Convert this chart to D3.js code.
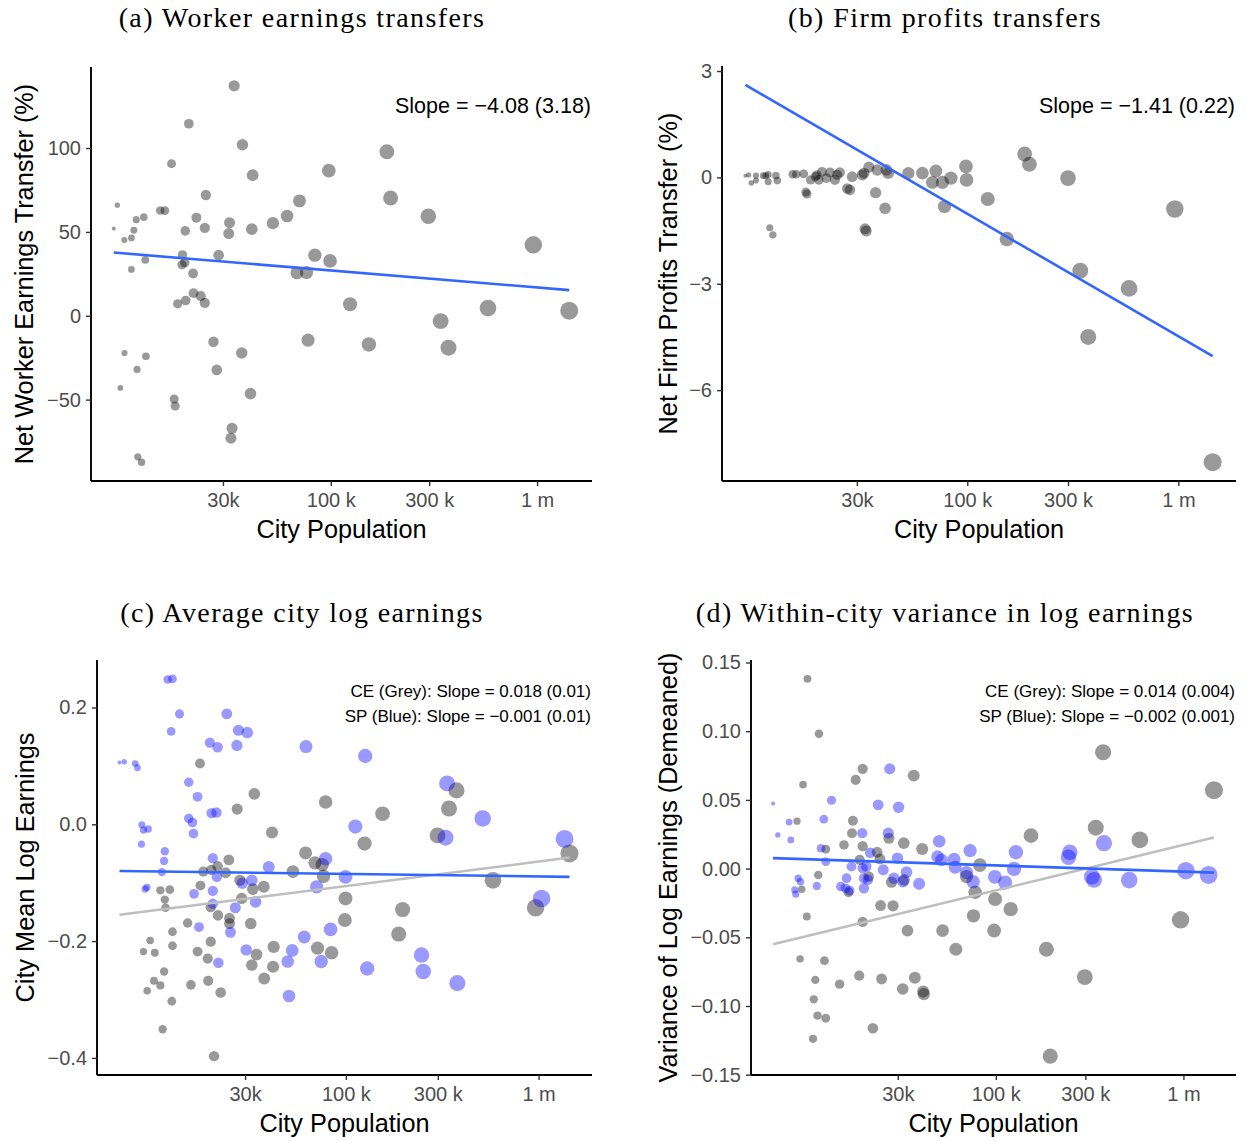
<!DOCTYPE html>
<html><head><meta charset="utf-8">
<script src="https://cdn.jsdelivr.net/npm/d3@7"></script>
<style>body{margin:0;background:#fff}</style>
</head><body>
<svg id="chart" width="1247" height="1141"></svg>
<script>
// ---------- DATA (population in thousands) ----------
const xTicks = [30, 100, 300, 1000];
const xTickLabels = ["30k", "100 k", "300 k", "1 m"];

// (a) Worker earnings transfers
const aPop = [34.0,20.5,37.3,97.8,41.8,16.9,24.8,9.23,70.5,14.9,15.7,12.4,11.4,22.3,61.4,52.4,32.3,24.5,19.7,41.4,32.0,8.87,11.1,9.98,10.8,19.1,28.6,83.7,99.2,12.6,19.6,19.0,10.8,21.5,68.5,76.3,21.6,23.4,19.8,24.5,18.1,124,27.0,77.6,37.0,10.0,12.7,11.5,28.0,9.54,40.8,17.4,17.6,33.2,32.8,11.6,12.1,187,195,297,959,578,1432,341,153,372];
const aVal = [137.1,114.5,102.0,86.5,83.8,90.7,72.0,65.9,68.5,62.7,62.7,58.8,57.3,58.5,59.5,55.2,55.5,52.4,50.6,51.6,49.0,52.0,51.0,45.1,46.4,36.3,36.1,36.1,32.7,33.3,31.7,30.4,27.6,25.2,25.6,25.8,13.5,11.7,9.1,7.7,7.1,6.9,-15.5,-14.5,-22.2,-22.2,-24.2,-32.0,-32.3,-43.0,-46.4,-49.6,-53.8,-67.1,-73.0,-84.1,-87.3,97.8,70.2,59.3,42.3,4.6,3.0,-3.2,-17.1,-19.0];
const aTrend = [37.7, 15.3];
const aYTicks = [-50, 0, 50, 100];

// (b) Firm profits transfers
const bPop = [8.89,9.21,9.49,9.98,9.98,10.8,11.1,11.4,11.4,12.4,12.6,11.6,12.0,14.9,15.5,16.8,17.2,17.4,18.1,19.1,19.4,19.8,20.5,21.5,22.4,23.6,24.2,24.9,27.0,27.8,28.5,31.8,32.4,32.8,33.2,34.2,36.8,37.5,40.8,41.4,42.2,52.6,61.3,71.0,68.4,76.3,78.0,83.7,98.6,99.2,125,187,197,300,962,154,343,584,374,1453];
const bVal = [0.05,0.07,-0.16,0.05,-0.09,0.05,0.05,0.08,-0.12,0.05,-0.09,-1.42,-1.62,0.09,0.09,0.10,-0.41,-0.47,-0.07,0.02,0.07,-0.07,0.16,-0.02,0.14,-0.07,0.07,0.14,-0.31,-0.35,0.02,0.07,0.12,-1.45,-1.51,0.29,-0.43,0.21,-0.87,0.21,0.12,0.12,0.12,0.18,-0.14,-0.14,-0.82,-0.02,0.31,-0.07,-0.61,0.66,0.37,-0.02,-0.89,-1.74,-2.63,-3.13,-4.50,-8.03];
const bTrend = [2.61, -5.04];
const bYTicks = [-6, -3, 0, 3];

// (c) Average city log earnings
const cGreyPop = [17.5,33.5,78.5,27.3,41.4,61.8,69.1,75.4,76.6,24.7,18.2,20.0,21.6,23.8,53.1,28.2,32.9,37.5,17.6,10.9,12.2,11.5,28.8,11.6,19.9,21.7,24.9,24.9,15.1,32.1,12.6,9.65,19.9,12.6,8.91,10.2,17.0,34.4,42.2,71.3,84.3,19.2,32.5,41.9,11.4,37.7,10.1,10.9,15.7,19.3,9.31,22.4,12.5,11.2,20.7,375,155,343,125,299,1447,580,99.6,197,98.8,965,188];
const cGreyVal = [0.104,0.052,0.038,0.026,-0.014,-0.049,-0.066,-0.069,-0.089,-0.061,-0.081,-0.078,-0.072,-0.083,-0.081,-0.096,-0.111,-0.107,-0.105,-0.113,-0.112,-0.129,-0.127,-0.143,-0.142,-0.156,-0.161,-0.170,-0.169,-0.170,-0.184,-0.199,-0.201,-0.208,-0.218,-0.220,-0.218,-0.223,-0.210,-0.212,-0.220,-0.230,-0.241,-0.244,-0.252,-0.264,-0.268,-0.276,-0.275,-0.268,-0.285,-0.288,-0.303,-0.351,-0.397,0.058,0.018,0.027,-0.033,-0.019,-0.050,-0.096,-0.127,-0.146,-0.164,-0.143,-0.188];
const cBluePop = [11.9,12.6,13.7,24.1,12.4,27.7,30.8,19.7,21.6,27.2,62.1,6.69,7.08,8.07,8.29,15.3,17.0,20.1,21.3,15.3,16.0,8.74,8.91,9.42,16.2,8.70,11.5,11.4,78.5,20.4,11.1,21.4,39.8,32.5,29.0,70.5,9.09,9.28,20.4,16.3,34.0,20.4,26.7,17.3,25.2,83.3,60.8,30.4,52.7,21.8,49.9,74.5,50.7,126,335,513,112,329,1364,99.6,1036,247,252,129,379];
const cBlueVal = [0.248,0.249,0.189,0.189,0.159,0.161,0.157,0.140,0.132,0.135,0.133,0.106,0.107,0.104,0.097,0.072,0.047,0.019,0.020,0.010,0.003,-0.001,-0.010,-0.008,-0.016,-0.034,-0.046,-0.063,-0.059,-0.058,-0.082,-0.090,-0.073,-0.096,-0.101,-0.107,-0.111,-0.108,-0.114,-0.119,-0.133,-0.136,-0.143,-0.176,-0.185,-0.180,-0.193,-0.215,-0.216,-0.237,-0.235,-0.235,-0.294,0.117,0.070,0.010,-0.004,-0.023,-0.025,-0.090,-0.127,-0.224,-0.252,-0.247,-0.272];
const cGreyTrend = [-0.155, -0.057];
const cBlueTrend = [-0.080, -0.090];
const cYTicks = [-0.4, -0.2, 0, 0.2];

// (d) Within-city variance in log earnings
const dGreyPop = [9.90,11.4,19.5,17.9,36.5,9.38,8.71,17.3,17.1,26.9,32.3,40.5,12.4,15.5,19.5,23.3,24.1,18.8,82.2,69.8,77.6,99.1,120,76.0,97.9,61.2,52.0,33.8,28.3,24.3,19.5,9.82,9.04,12.2,10.9,14.7,18.7,24.6,31.9,37.0,41.0,41.3,10.7,11.2,12.4,22.1,10.6,11.3,9.23,16.4,21.0,27.8,32.4,373,1455,154,341,586,966,186,298,195];
const dGreyVal = [0.1381,0.0981,0.0726,0.0646,0.0677,0.0611,0.0345,0.0349,0.0258,0.0221,0.0185,0.0143,0.0141,0.0172,0.0163,0.0119,0.0071,0.0063,0.0025,-0.0058,-0.0172,-0.0221,-0.0295,-0.0344,-0.0451,-0.0587,-0.0451,-0.0451,-0.0271,-0.0269,-0.0388,-0.0349,-0.0657,-0.0670,-0.0810,-0.0841,-0.0779,-0.0803,-0.0876,-0.0795,-0.0895,-0.0914,-0.0951,-0.1070,-0.1089,-0.1162,-0.1239,-0.0046,-0.0150,-0.0172,-0.0058,-0.0099,-0.0082,0.0847,0.0571,0.0240,0.0298,0.0209,-0.0373,-0.0587,-0.0790,-0.1365];
const dBluePop = [27.2,6.49,13.3,23.6,30.3,7.90,12.1,6.88,8.07,19.4,26.7,49.9,72.9,11.7,21.4,29.9,48.9,51.3,59.9,60.7,69.8,75.7,98.8,112,12.4,8.83,9.08,8.47,8.58,11.1,14.9,15.8,16.6,16.0,17.0,19.5,20.4,19.8,20.8,19.8,25.1,28.6,32.0,33.4,39.0,377,128,248,244,125,325,334,514,1031,1363];
const dBlueVal = [0.0726,0.0473,0.0498,0.0464,0.0447,0.0338,0.0360,0.0245,0.0209,0.0258,0.0258,0.0199,0.0131,0.0148,0.0116,0.0076,0.0087,0.0063,0.0068,0.0010,-0.0029,-0.0095,-0.0060,-0.0102,0.0051,-0.0070,-0.0095,-0.0155,-0.0186,-0.0126,-0.0131,-0.0143,-0.0160,-0.0070,0.0015,0.0003,0.0015,-0.0070,-0.0082,-0.0143,-0.0009,-0.0070,-0.0095,-0.0026,-0.0111,0.0185,0.0119,0.0119,0.0083,-0.0002,-0.0058,-0.0082,-0.0084,-0.0015,-0.0046];
const dGreyTrend = [-0.0550, 0.0226];
const dBlueTrend = [0.0076, -0.0029];
const dYTicks = [-0.15, -0.10, -0.05, 0, 0.05, 0.10, 0.15];

// ---------- DRAWING ----------
const svg = d3.select("#chart");
const SANS = "'Liberation Sans', Arial, Helvetica, sans-serif";
const SERIF = "'Liberation Serif', 'Times New Roman', serif";
const TREND_BLUE = "#3366FF";

function expand(ext, f) { const d = (ext[1] - ext[0]) * f; return [ext[0] - d, ext[1] + d]; }

function drawPanel(cfg) {
  const g = svg.append("g");
  const {l, r, t, b} = cfg.box;
  const allPop = cfg.series.flatMap(s => s.pop);
  const allVal = cfg.series.flatMap(s => s.val).concat(cfg.trends.flatMap(tr => tr.vals));
  const lx = expand(d3.extent(allPop, p => Math.log10(p)), 0.05);
  const x = d3.scaleLog().domain([Math.pow(10, lx[0]), Math.pow(10, lx[1])]).range([l, r]);
  const y = d3.scaleLinear().domain(expand(d3.extent(allVal), 0.05)).range([b, t]);
  const popExt = d3.extent(allPop);
  const lMin = Math.log10(popExt[0]), lMax = Math.log10(popExt[1]);
  const rad = d3.scalePow().exponent(0.5).domain([0, lMax - lMin]).range([2, 9]);

  // points
  cfg.series.forEach(s => {
    g.append("g").selectAll("circle").data(s.pop.map((p, i) => [p, s.val[i]])).join("circle")
      .attr("cx", d => x(d[0])).attr("cy", d => y(d[1]))
      .attr("r", d => rad(Math.log10(d[0]) - lMin))
      .attr("fill", s.color).attr("fill-opacity", 0.4);
  });
  // trend lines
  const line = d3.line().x(d => x(d[0])).y(d => y(d[1]));
  cfg.trends.forEach(tr => {
    g.append("path").datum([[popExt[0], tr.vals[0]], [popExt[1], tr.vals[1]]])
      .attr("d", line).attr("fill", "none").attr("stroke", tr.color).attr("stroke-width", tr.width);
  });

  // axes
  const xa = g.append("g").attr("transform", `translate(0,${b})`)
    .call(d3.axisBottom(x).tickValues(xTicks).tickFormat((d, i) => xTickLabels[i]).tickSize(5).tickSizeOuter(0).tickPadding(7));
  const ya = g.append("g").attr("transform", `translate(${l},0)`)
    .call(d3.axisLeft(y).tickValues(cfg.yTicks).tickFormat(d3.format(cfg.yFmt)).tickSize(5).tickSizeOuter(0).tickPadding(5));
  [xa, ya].forEach(a => {
    a.select(".domain").attr("stroke", "#000").attr("stroke-width", 1.9);
    a.selectAll(".tick line").attr("stroke", "#333").attr("stroke-width", 1.4);
    a.selectAll(".tick text").attr("fill", "#4d4d4d").style("font-family", SANS).style("font-size", "20px");
  });
  xa.select(".domain").attr("d", `M${l},0H${r}`);
  ya.select(".domain").attr("d", `M0,${t}V${b}`);

  // axis titles
  g.append("text").attr("x", (l + r) / 2).attr("y", b + 57).attr("text-anchor", "middle")
    .style("font-family", SANS).style("font-size", "25.3px").attr("fill", "#000").text("City Population");
  g.append("text").attr("transform", `translate(${cfg.yTitleX},${(t + b) / 2}) rotate(-90)`)
    .attr("text-anchor", "middle").style("font-family", SANS).style("font-size", "25.3px")
    .attr("fill", "#000").text(cfg.yTitle);

  // annotations
  cfg.notes.forEach((n, i) => {
    g.append("text").attr("x", r - 1).attr("y", cfg.noteY + i * 25).attr("text-anchor", "end")
      .style("font-family", SANS).style("font-size", cfg.noteSize + "px").attr("fill", "#000").text(n);
  });

  // panel title
  g.append("text").attr("x", cfg.titleX).attr("y", cfg.titleY).attr("text-anchor", "middle")
    .style("font-family", SERIF).style("font-size", "28px").style("letter-spacing", "1.4px")
    .attr("fill", "#000").text(cfg.title);
}

drawPanel({
  box: {l: 91, r: 592, t: 67, b: 481},
  series: [{pop: aPop, val: aVal, color: "#000"}],
  trends: [{vals: aTrend, color: TREND_BLUE, width: 2.6}],
  yTicks: aYTicks, yFmt: "d",
  yTitle: "Net Worker Earnings Transfer (%)", yTitleX: 33,
  notes: ["Slope = \u22124.08 (3.18)"], noteY: 113, noteSize: 21.5,
  title: "(a) Worker earnings transfers", titleX: 302, titleY: 27
});
drawPanel({
  box: {l: 722, r: 1236, t: 66, b: 481},
  series: [{pop: bPop, val: bVal, color: "#000"}],
  trends: [{vals: bTrend, color: TREND_BLUE, width: 2.6}],
  yTicks: bYTicks, yFmt: "d",
  yTitle: "Net Firm Profits Transfer (%)", yTitleX: 677,
  notes: ["Slope = \u22121.41 (0.22)"], noteY: 113, noteSize: 21.5,
  title: "(b) Firm profits transfers", titleX: 945, titleY: 27
});
drawPanel({
  box: {l: 97, r: 592, t: 660, b: 1075},
  series: [{pop: cGreyPop, val: cGreyVal, color: "#000"}, {pop: cBluePop, val: cBlueVal, color: "#0000ff"}],
  trends: [{vals: cGreyTrend, color: "#bebebe", width: 2.5}, {vals: cBlueTrend, color: TREND_BLUE, width: 2.6}],
  yTicks: cYTicks, yFmt: ".1f",
  yTitle: "City Mean Log Earnings", yTitleX: 34,
  notes: ["CE (Grey): Slope = 0.018 (0.01)", "SP (Blue): Slope = \u22120.001 (0.01)"], noteY: 697, noteSize: 17,
  title: "(c) Average city log earnings", titleX: 302, titleY: 622
});
drawPanel({
  box: {l: 751, r: 1236, t: 660, b: 1075},
  series: [{pop: dGreyPop, val: dGreyVal, color: "#000"}, {pop: dBluePop, val: dBlueVal, color: "#0000ff"}],
  trends: [{vals: dGreyTrend, color: "#bebebe", width: 2.5}, {vals: dBlueTrend, color: TREND_BLUE, width: 2.6}],
  yTicks: dYTicks, yFmt: ".2f",
  yTitle: "Variance of Log Earnings (Demeaned)", yTitleX: 677,
  notes: ["CE (Grey): Slope = 0.014 (0.004)", "SP (Blue): Slope = \u22120.002 (0.001)"], noteY: 697, noteSize: 17,
  title: "(d) Within-city variance in log earnings", titleX: 945, titleY: 622
});
</script>
</body></html>
